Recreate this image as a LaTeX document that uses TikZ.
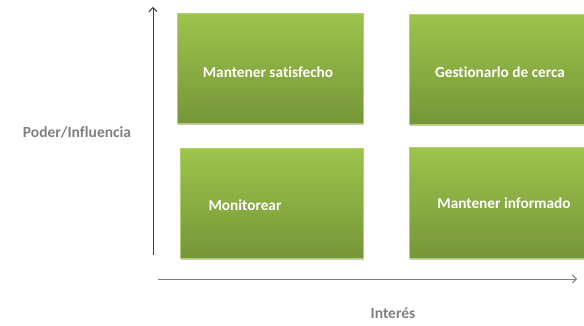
\documentclass[tikz,border=0pt]{standalone}
\usepackage{fontspec}
\setmainfont{Carlito}[Ligatures=NoCommon]
\usetikzlibrary{arrows.meta,shadows}
\definecolor{gtop}{RGB}{157,196,76}
\definecolor{gbot}{RGB}{118,150,56}
\definecolor{axisgray}{RGB}{128,128,128}
\definecolor{labgray}{RGB}{127,127,127}
\tikzset{
  quad/.style={rectangle, inner sep=0pt, top color=gtop, bottom color=gbot, draw=gtop!80!white, line width=0.4pt,
    drop shadow={shadow xshift=1pt, shadow yshift=-1.5pt, fill=black!35, opacity=0.6}},
  qtext/.style={text=white, font=\bfseries\fontsize{15.3}{17}\selectfont},
  axlab/.style={text=labgray, font=\bfseries\fontsize{15.5}{17}\selectfont},
  axis/.style={line width=0.9pt, -{Straight Barb[length=4pt,width=8pt]}}
}
\begin{document}
\begin{tikzpicture}[x=1pt,y=-1pt]
\useasboundingbox (0,0) rectangle (584,326);
\node[quad, minimum width=186pt, minimum height=110pt, anchor=north west] (tl) at (177,13) {};
\node[quad, minimum width=175pt, minimum height=110pt, anchor=north west] (tr) at (409,14) {};
\node[quad, minimum width=183pt, minimum height=110pt, anchor=north west] (bl) at (180,148) {};
\node[quad, minimum width=175pt, minimum height=111pt, anchor=north west] (br) at (409,147) {};
\node[qtext] (t1) at (268,72) {Mantener satisfecho};
\node[qtext] (t2) at (500,72) {Gestionarlo de cerca};
\node[qtext] (t3) at (245,205) {Monitorear};
\node[qtext] (t4) at (504,203) {Mantener informado};
\coordinate (vs) at (153,255);
\coordinate (ve) at (153,7);
\coordinate (hs) at (158,279);
\coordinate (he) at (577,279);
\draw[axis, draw=black!75] (vs) -- (ve);
\draw[axis, draw=axisgray] (hs) -- (he);
\node[axlab] (yl) at (77,132) {Poder/Influencia};
\node[axlab] (xl) at (393,313) {Interés};
\end{tikzpicture}
\end{document}
